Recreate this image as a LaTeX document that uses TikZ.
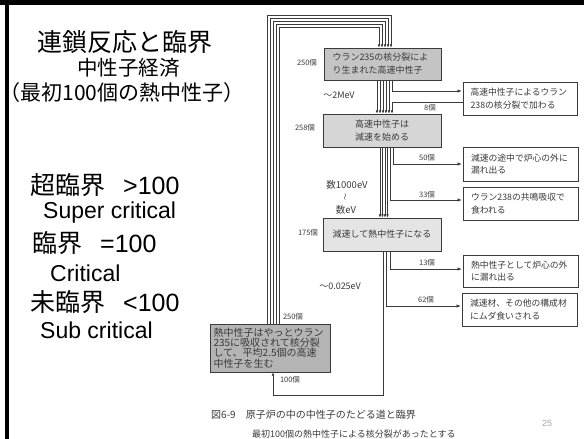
\documentclass[tikz,border=0pt]{standalone}
\usepackage{fontspec}
\setmainfont{Liberation Sans}
\newfontfamily\jp{Noto Sans CJK JP}
\usetikzlibrary{arrows.meta}
\definecolor{ink}{HTML}{3A3A3A}
\definecolor{gA}{HTML}{C4C4C4}
\definecolor{gB}{HTML}{D6D6D6}
\definecolor{gC}{HTML}{E4E4E4}
\definecolor{gD}{HTML}{B4B4B4}
\tikzset{
  boxg/.style={draw=ink, line width=0.7pt, inner sep=0pt, text=ink},
  mbox/.style={boxg, minimum width=118pt, minimum height=33pt, font=\jp\fontsize{9}{13}\selectfont},
  rbox/.style={boxg, fill=white, minimum width=115pt, minimum height=33pt, text width=99pt, align=left, font=\jp\fontsize{8.8}{12.5}\selectfont},
  flow/.style={draw=ink, line width=0.55pt, -{Latex[length=3.2pt,width=2.6pt]}},
  arr/.style={draw=ink, line width=0.6pt, shorten >=1pt, -{Latex[length=4pt,width=3.4pt]}},
  lbl/.style={inner sep=0pt, text=ink, font=\jp\fontsize{7.5}{9}\selectfont},
  en/.style={inner sep=0pt, text=ink, font=\jp\fontsize{9}{11}\selectfont},
  slide/.style={inner sep=0pt, text=black},
}
\begin{document}
\begin{tikzpicture}[x=1pt,y=-1pt]
\useasboundingbox (0,0) rectangle (584,439);
\fill[white] (0,0) rectangle (584,439);

% ---- slide text ----
\node[slide, font=\jp\fontsize{25}{30}\selectfont] (title) at (125,42) {連鎖反応と臨界};
\node[slide, font=\jp\fontsize{20.5}{24}\selectfont] (sub1) at (128.5,68) {中性子経済};
\node[slide, font=\jp\fontsize{21}{24}\selectfont] (sub2) at (122,93) {（最初100個の熱中性子）};
\node[slide, anchor=west, font=\fontsize{25}{30}\selectfont] (sc) at (30,185) {{\jp 超臨界}\hspace{18pt}>100};
\node[slide, anchor=west, font=\fontsize{23}{28}\selectfont] (sce) at (43,213) {Super critical};
\node[slide, anchor=west, font=\fontsize{25}{30}\selectfont] (cr) at (32,243) {{\jp 臨界}\hspace{18pt}=100};
\node[slide, anchor=west, font=\fontsize{23}{28}\selectfont] (cre) at (50,273) {Critical};
\node[slide, anchor=west, font=\fontsize{25}{30}\selectfont] (sb) at (30,302) {{\jp 未臨界}\hspace{18pt}<100};
\node[slide, anchor=west, font=\fontsize{23}{28}\selectfont] (sbe) at (40,330) {Sub critical};

% ---- main boxes ----
\node[mbox, fill=gA, minimum width=117pt, minimum height=32pt, text width=100pt, align=left] (b1) at (382.5,64) {ウラン235の核分裂によ\\り生まれた高速中性子};
\node[mbox, fill=gB, align=center] (b2) at (382,130.5) {高速中性子は\\減速を始める};
\node[mbox, fill=gC] (b3) at (382,234.5) {減速して熱中性子になる};
\node[boxg, fill=gD, minimum width=120pt, minimum height=48pt, text width=113pt, align=left, font=\jp\fontsize{10}{10.3}\selectfont] (b4) at (270,348) {熱中性子はやっとウラン\\235に吸収されて核分裂\\して、平均2.5個の高速\\中性子を生む};

% ---- right boxes ----
\node[rbox, minimum width=114pt] (r1) at (520,98.5) {高速中性子によるウラン\\238の核分裂で加わる};
\node[rbox, minimum height=34pt] (r2) at (520.5,164) {減速の途中で炉心の外に\\漏れ出る};
\node[rbox] (r3) at (520.5,203.5) {ウラン238の共鳴吸収で\\食われる};
\node[rbox, minimum height=32pt] (r4) at (520.5,271) {熱中性子として炉心の外\\に漏れ出る};
\node[rbox] (r5) at (519.5,309.5) {減速材、その他の構成材\\にムダ食いされる};

% ---- loop from b4 back to b1 ----
\foreach \i in {0,...,4}{
  \coordinate (lx\i) at ({267+3*\i},0);
  \coordinate (rx\i) at ({391-3*\i},0);
  \draw[flow] (b4.north -| lx\i) |- ({391-3*\i},{15+3*\i}) -- (b1.north -| rx\i);
}
% ---- b1 -> b2 ----
\foreach \i in {0,...,4}{
  \coordinate (ma\i) at ({377+3*\i},0);
  \draw[flow] (b1.south -| ma\i) -- (b2.north -| ma\i);
}
\coordinate (xA) at (392,0);
\coordinate (yA) at (0,91);
\coordinate (yB) at (0,102);
\draw[arr] (b1.south -| xA) |- (r1.west |- yA);
\draw[flow] (r1.west |- yB) -| (b2.north -| xA);

% ---- b2 -> b3 ----
\foreach \i in {0,...,3}{
  \coordinate (mb\i) at ({380+2.5*\i},0);
  \draw[flow] (b2.south -| mb\i) -- (b3.north -| mb\i);
}
\coordinate (xB) at (393,0);
\coordinate (xC) at (390.5,0);
\coordinate (yC) at (0,164);
\coordinate (yD) at (0,200);
\draw[arr] (b2.south -| xB) |- (r2.west |- yC);
\draw[arr] (b2.south -| xC) |- (r3.west |- yD);

% ---- b3 -> r4, r5, b4 ----
\coordinate (xD) at (390,0);
\coordinate (xE) at (386.5,0);
\coordinate (xF) at (383,0);
\coordinate (xG) at (273,0);
\coordinate (yE) at (0,269);
\coordinate (yF) at (0,306);
\draw[arr] (b3.south -| xD) |- (r4.west |- yE);
\draw[arr] (b3.south -| xE) |- (r5.west |- yF);
\draw[flow] (b3.south -| xF) -- (383,395) -| (b4.south -| xG);

% ---- labels ----
\node[lbl] (n250a) at (307,63) {250個};
\node[lbl] (n258) at (305,128) {258個};
\node[lbl] (n175) at (308,233) {175個};
\node[lbl] (n250b) at (293,317) {250個};
\node[lbl] (n100) at (290,380) {100個};
\node[lbl] (n8) at (430,108) {8個};
\node[lbl] (n50) at (427,158) {50個};
\node[lbl] (n33) at (427,195) {33個};
\node[lbl] (n13) at (427,263) {13個};
\node[lbl] (n62) at (426,300) {62個};
\node[en] (e1) at (339,95) {〜2MeV};
\node[en, font=\jp\fontsize{9.5}{11}\selectfont] (e2) at (347,185) {数1000eV};
\node[en, rotate=90, font=\jp\fontsize{7}{8}\selectfont] (e3) at (346,197) {〜};
\node[en, font=\jp\fontsize{9.5}{11}\selectfont] (e4) at (346,210) {数eV};
\node[en] (e5) at (340,286) {〜0.025eV};

% ---- caption ----
\node[inner sep=0pt, anchor=west, text=ink, font=\jp\fontsize{10}{12}\selectfont] (cap1) at (211,415) {図6-9\hspace{10pt}原子炉の中の中性子のたどる道と臨界};
\node[inner sep=0pt, anchor=west, text=ink, font=\jp\fontsize{9}{11}\selectfont] (cap2) at (252,434) {最初100個の熱中性子による核分裂があったとする};
\node[inner sep=0pt, text=gray!70, font=\fontsize{9}{10}\selectfont] (pg) at (547,423) {25};

% ---- slide frame ----
\fill[black] (0,0) rectangle (584,4.5);
\fill[black] (5,0) rectangle (9,439);
\end{tikzpicture}
\end{document}
